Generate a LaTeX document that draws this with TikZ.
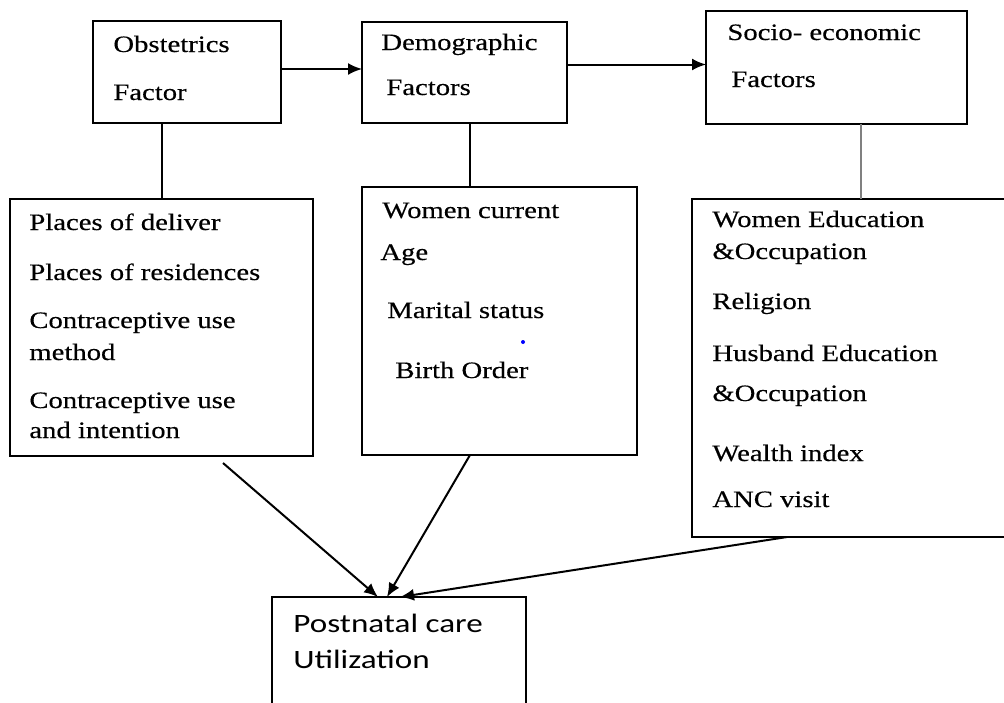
\documentclass[tikz,border=0pt]{standalone}
\usepackage{fontspec}
\setmainfont{Liberation Serif}[FakeStretch=1.22, FakeBold=0.4]
\newfontfamily\pncfont{Carlito}[FakeStretch=1.25]
\usepackage{tikz}
\usetikzlibrary{arrows.meta, positioning}

\tikzset{
  factorbox/.style={draw, line width=1pt, inner sep=0pt, outer sep=0pt},
  itemtext/.style={anchor=base west, inner sep=0pt, font=\fontsize{11.75}{15.5}\selectfont},
  link/.style={line width=1pt},
}

\begin{document}
\begin{tikzpicture}[>={Latex[length=7pt, width=6pt]}, x=0.5pt, y=-0.5pt]

    \useasboundingbox (0,0) rectangle (1004,702);
    \clip (0,0) rectangle (1004,702);

    % top row
    \node[factorbox, minimum width=94pt, minimum height=51pt] (obst) at (187,72) {};
    \node[factorbox, minimum width=102.5pt, minimum height=50.5pt] (demo) at (464.5,72.5) {};
    \node[factorbox, minimum width=130.5pt, minimum height=56.5pt] (socio) at (836.5,67.5) {};

    \node[itemtext] (obst1) at (113,52) {Obstetrics};
    \node[itemtext] (obst2) at (113,100) {Factor};
    \node[itemtext] (demo1) at (381,50) {Demographic};
    \node[itemtext] (demo2) at (386,95) {Factors};
    \node[itemtext] (socio1) at (727,40) {Socio- economic};
    \node[itemtext] (socio2) at (731,87) {Factors};

    % lists
    \node[factorbox, minimum width=151.5pt, minimum height=128.5pt] (obstlist) at (161.5,327.5) {};
    \node[factorbox, minimum width=137.5pt, minimum height=134pt] (demolist) at (499.5,321) {};
    \node[factorbox, minimum width=169pt, minimum height=169pt] (sociolist) at (861,368) {};

    \node[itemtext] (ol1) at (29,230) {Places of deliver};
    \node[itemtext] (ol2) at (29,280) {Places of residences};
    \node[itemtext] (ol3) at (29,328) {Contraceptive use};
    \node[itemtext] (ol4) at (29,360) {method};
    \node[itemtext] (ol5) at (29,408) {Contraceptive use};
    \node[itemtext] (ol6) at (29,438) {and intention};

    \node[itemtext] (dl1) at (382,218) {Women current};
    \node[itemtext] (dl2) at (380,260) {Age};
    \node[itemtext] (dl3) at (387,318) {Marital status};
    \node[itemtext] (dl4) at (395,378) {Birth Order};
    \fill[blue] (523,342) circle (1pt);

    \node[itemtext] (sl1) at (712,227) {Women Education};
    \node[itemtext] (sl2) at (712,259) {\&Occupation};
    \node[itemtext] (sl3) at (712,309) {Religion};
    \node[itemtext] (sl4) at (712,361) {Husband Education};
    \node[itemtext] (sl5) at (712,401) {\&Occupation};
    \node[itemtext] (sl6) at (712,461) {Wealth index};
    \node[itemtext] (sl7) at (712,507) {ANC visit};

    % outcome
    \node[factorbox, minimum width=127pt, minimum height=71.5pt] (pnc) at (399,668.5) {};
    \node[itemtext, font=\pncfont\fontsize{13.25}{18}\selectfont] (pnc1) at (293,632) {Postnatal care};
    \node[itemtext, font=\pncfont\fontsize{13.25}{18}\selectfont] (pnc2) at (293,668) {Utilization};

    \draw[link, ->] ([yshift=1.5pt]obst.east) -- ([yshift=1.5pt]obst.east -| demo.west);
    \draw[link, ->] ([yshift=4pt]demo.east) -- ([yshift=4pt]demo.east -| socio.west);

    \draw[link] (obstlist.north) -- (obstlist.north |- obst.south);
    \draw[link] ([xshift=2.75pt]demo.south) -- ([xshift=2.75pt]demo.south |- demolist.north);
    \draw[link, gray] (sociolist.north) -- (sociolist.north |- socio.south);

    \draw[link, ->] ([xshift=30.75pt, yshift=-3.5pt]obstlist.south) -- ([xshift=-10.5pt]pnc.north);
    \draw[link, ->] ([xshift=-14.75pt]demolist.south) -- ([xshift=-6pt]pnc.north);
    \draw[link, ->] ([xshift=-37pt]sociolist.south) -- ([xshift=0.5pt]pnc.north);

\end{tikzpicture}
\end{document}
